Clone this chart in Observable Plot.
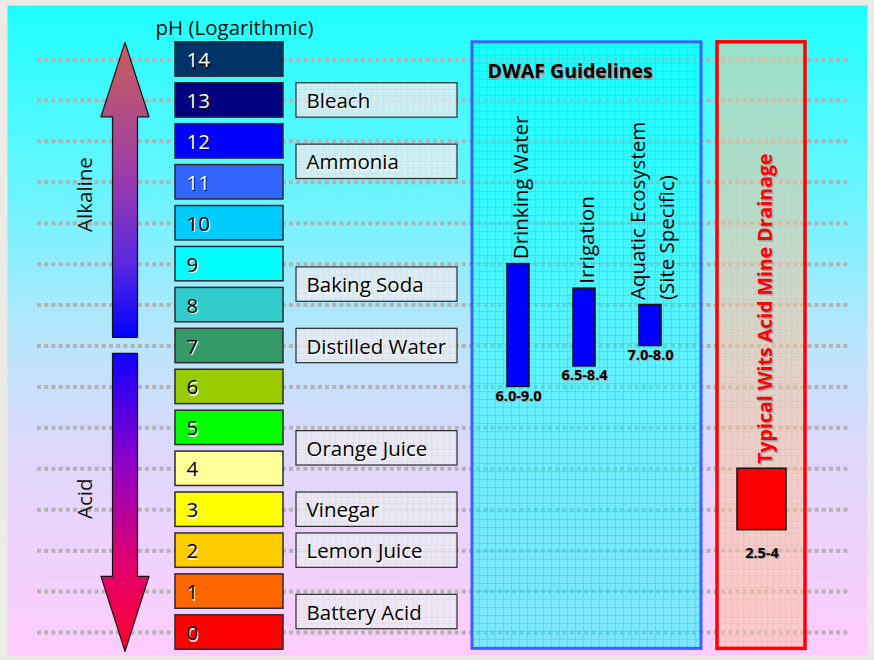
<!DOCTYPE html>
<html><head><meta charset="utf-8">
<script src="https://cdn.jsdelivr.net/npm/d3@7"></script>
<script src="https://cdn.jsdelivr.net/npm/@observablehq/plot@0.6"></script>
<style>
body{margin:0;background:#ebeae5;}
#chart svg{display:block;}
</style>
</head><body><div id="chart"></div>
<script>
// ---------- data ----------
const phLevels = [0,1,2,3,4,5,6,7,8,9,10,11,12,13,14];
const phColors = ["#ff0000","#ff6600","#ffcc00","#ffff00","#ffff99","#00ff00","#99cc00","#339966","#33cccc","#00ffff","#00ccff","#3366ff","#0000ff","#000080","#003366"];
const substances = ["Bleach","Ammonia","Baking Soda","Distilled Water","Orange Juice","Vinegar","Lemon Juice","Battery Acid"];
const substancePH = [13, 11.5, 8.5, 7, 4.5, 3, 2, 0.5];
const guidelineNames = ["Drinking Water","Irrigation","Aquatic Ecosystem\n(Site Specific)"];
const guidelineLow = [6.0, 6.5, 7.0];
const guidelineHigh = [9.0, 8.4, 8.0];
const guidelineLabels = ["6.0-9.0","6.5-8.4","7.0-8.0"];
const amdName = "Typical Wits Acid Mine Drainage";
const amdLow = [2.5];
const amdHigh = [4];
const amdLabels = ["2.5-4"];
const titleText = "pH (Logarithmic)";
const dwafTitle = "DWAF Guidelines";
const directionLabels = ["Alkaline","Acid"];

// ---------- layout (pixels on x, pH units on y) ----------
const L = {
  phBox:[175,283], numX:186, half:0.42,
  label:[296,457], labelTextX:306,
  grid:[37,850],
  arrowX:124.5, shaftHalf:12.5, headHalf:24,
  upTip:14.42, upHead:12.6, upBase:7.21,
  downTop:6.82, downHead:1.37, downTip:-0.46,
  dirX:85, dirY:[10.7,3.27],
  dwaf:[472,701], amd:[717,805], boxTop:14.42, boxBottom:-0.4,
  guideX:[518,584,650], guideW:22,
  amdX:761.5, amdW:49, amdTextX:765,
  titleX:234, titleY:14.76, dwafTitleX:487, dwafTitleY:13.7
};

const phData = phLevels.map((p,i)=>({ph:p, color:phColors[i]}));
const subData = substances.map((s,i)=>({name:s, ph:substancePH[i]}));
const guideData = guidelineNames.map((n,i)=>({name:n, lo:guidelineLow[i], hi:guidelineHigh[i], label:guidelineLabels[i], x:L.guideX[i]}));
const amdData = amdLow.map((lo,i)=>({name:amdName, lo, hi:amdHigh[i], label:amdLabels[i], x:L.amdX}));

const ax = L.arrowX, sh = L.shaftHalf, hh = L.headHalf;
const upArrow = [
  {x:ax, y:L.upTip},{x:ax+hh, y:L.upHead},{x:ax+sh, y:L.upHead},{x:ax+sh, y:L.upBase},
  {x:ax-sh, y:L.upBase},{x:ax-sh, y:L.upHead},{x:ax-hh, y:L.upHead},{x:ax, y:L.upTip}
];
const downArrow = [
  {x:ax-sh, y:L.downTop},{x:ax+sh, y:L.downTop},{x:ax+sh, y:L.downHead},{x:ax+hh, y:L.downHead},
  {x:ax, y:L.downTip},{x:ax-hh, y:L.downHead},{x:ax-sh, y:L.downHead},{x:ax-sh, y:L.downTop}
];

function shadowed(data, opts, sFill, sdx, sdy) {
  return [
    Plot.text(data, {...opts, fill:sFill, dx:(opts.dx||0)+sdx, dy:(opts.dy||0)+sdy}),
    Plot.text(data, opts)
  ];
}

const FS = 20.5;
const FB = 19.5;
const FV = 14.5;
const marks = [
  Plot.frame({fill:"url(#bgGrad)", stroke:"none", insetLeft:7, insetTop:5, insetRight:7, insetBottom:5}),
  Plot.ruleY(phLevels, {x1:L.grid[0], x2:L.grid[1], stroke:"#b3b3b3", strokeWidth:4, strokeDasharray:"4,3.2"}),
  // guideline panels
  Plot.rect([0], {x1:L.dwaf[0], x2:L.dwaf[1], y1:L.boxBottom, y2:L.boxTop, fill:"url(#dwafPat)", stroke:"#3a62ff", strokeWidth:3}),
  Plot.rect([0], {x1:L.amd[0], x2:L.amd[1], y1:L.boxBottom, y2:L.boxTop, fill:"url(#amdPat)", stroke:"#ff0000", strokeWidth:3.5}),
  // arrows
  Plot.line(upArrow, {x:"x", y:"y", fill:"url(#upGrad)", stroke:"#111", strokeWidth:1.2, curve:"linear"}),
  Plot.line(downArrow, {x:"x", y:"y", fill:"url(#downGrad)", stroke:"#111", strokeWidth:1.2, curve:"linear"}),
  Plot.text(directionLabels, {x:L.dirX, y:(d,i)=>L.dirY[i], text:d=>d, rotate:-90, fontSize:FS, fill:"#111"}),
  // title
  Plot.text([titleText], {x:L.titleX, y:L.titleY, text:d=>d, fontSize:FS, fill:"#111"}),
  // pH boxes
  Plot.rect(phData, {x1:L.phBox[0], x2:L.phBox[1], y1:d=>d.ph-L.half, y2:d=>d.ph+L.half, fill:"color", stroke:"#2b2b2b", strokeWidth:1.5}),
  ...shadowed(phData.filter(d=>d.ph>=11), {x:L.numX, y:"ph", text:d=>String(d.ph), textAnchor:"start", fontSize:FS, fill:"white", dy:1}, "#000", 1, 1.5),
  ...shadowed(phData.filter(d=>d.ph<11), {x:L.numX, y:"ph", text:d=>String(d.ph), textAnchor:"start", fontSize:FS, fill:"#000", dy:1}, "#fff", 1, 1.5),
  // substance labels
  Plot.rect(subData, {x1:L.label[0], x2:L.label[1], y1:d=>d.ph-L.half, y2:d=>d.ph+L.half, fill:"url(#labelPat)", stroke:"#2b2b2b", strokeWidth:1.2}),
  ...shadowed(subData, {x:L.labelTextX, y:"ph", text:"name", textAnchor:"start", fontSize:FS, fill:"#000", dy:1}, "#fff", 1, 1.5),
  // DWAF
  ...shadowed([dwafTitle], {x:L.dwafTitleX, y:L.dwafTitleY, text:d=>d, textAnchor:"start", fontSize:FB, fontWeight:"bold", fill:"#000"}, "#9a9a9a", 1.5, 1.5),
  Plot.rect(guideData, {x1:d=>d.x-L.guideW/2, x2:d=>d.x+L.guideW/2, y1:"lo", y2:"hi", fill:"#0000ff", stroke:"#111", strokeWidth:1.5}),
  Plot.text(guideData, {x:"x", y:"hi", text:"name", rotate:-90, textAnchor:"start", lineAnchor:"middle", lineHeight:1.38, fontSize:FS, fill:"#000", dy:-5}),
  ...shadowed(guideData, {x:"x", y:"lo", text:"label", fontSize:FV, fontWeight:"bold", fill:"#000", dy:9}, "#a0a0a0", 1, 1),
  // AMD
  Plot.rect(amdData, {x1:d=>d.x-L.amdW/2, x2:d=>d.x+L.amdW/2, y1:"lo", y2:"hi", fill:"#ff0000", stroke:"#111", strokeWidth:1.5}),
  ...shadowed(amdData, {x:L.amdTextX, y:"hi", text:"name", rotate:-90, textAnchor:"start", fontSize:FB, fontWeight:"bold", fill:"#ff0000", dy:-5}, "#a0a0a0", 1.5, 1.5),
  ...shadowed(amdData, {x:"x", y:"lo", text:"label", fontSize:FV, fontWeight:"bold", fill:"#000", dy:23}, "#a0a0a0", 1, 1)
];

const svg = Plot.plot({
  width:874, height:660, margin:0,
  x:{domain:[0,874], range:[0,874], axis:null},
  y:{domain:[0,14], range:[632,59], axis:null},
  color:{type:"identity"},
  style:{fontFamily:"'Open Sans', Lato, sans-serif", background:"transparent", overflow:"visible"},
  marks
});

// gradients and patterns
const defs = d3.select(svg).insert("defs", ":first-child");
function grad(id, stops){
  const g = defs.append("linearGradient").attr("id", id).attr("x1",0).attr("y1",0).attr("x2",0).attr("y2",1);
  stops.forEach(([o,c])=>g.append("stop").attr("offset",o).attr("stop-color",c));
}
grad("bgGrad", [[0,"#1effff"],[0.3,"#6ef4ff"],[0.5,"#b4e6fd"],[0.68,"#ded8fc"],[1,"#ffccff"]]);
grad("upGrad", [[0,"#c8605a"],[0.45,"#9c3ca8"],[0.75,"#5a28e0"],[1,"#0000ff"]]);
grad("downGrad", [[0,"#1000ff"],[0.35,"#8800cc"],[0.7,"#e00070"],[1,"#ff0030"]]);
function pat(id, size, base, line, lw){
  const p = defs.append("pattern").attr("id", id).attr("patternUnits","userSpaceOnUse").attr("width",size).attr("height",size);
  p.append("rect").attr("width",size).attr("height",size).attr("fill",base);
  p.append("path").attr("d",`M${size-0.5} 0V${size}M0 ${size-0.5}H${size}`).attr("stroke",line).attr("stroke-width",lw).attr("fill","none");
}
pat("dwafPat", 8, "rgba(0,255,255,0.5)", "rgba(0,225,245,0.45)", 1);
pat("amdPat", 6, "rgba(255,195,150,0.5)", "rgba(255,185,120,0.45)", 1);
pat("labelPat", 6, "rgba(236,236,242,0.8)", "rgba(160,200,210,0.22)", 0.8);

document.getElementById("chart").appendChild(svg);
</script>
</body></html>
